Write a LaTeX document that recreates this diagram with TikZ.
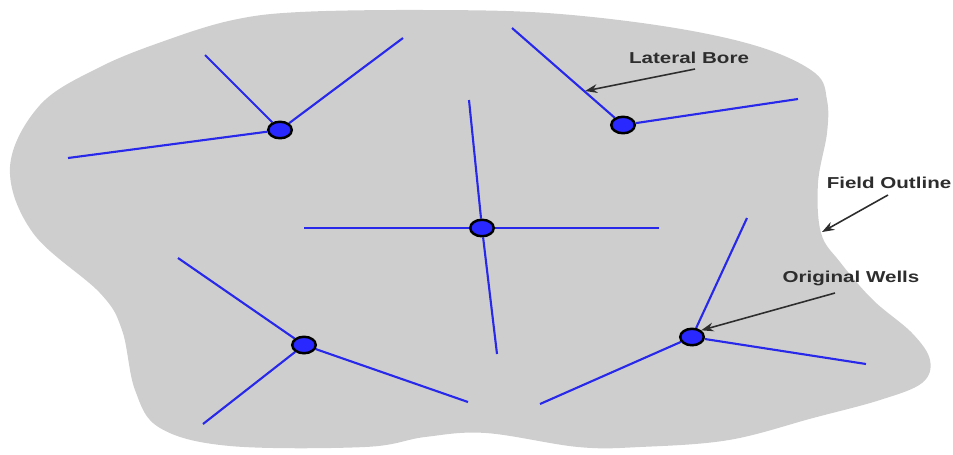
\documentclass[tikz,border=0pt]{standalone}
\usepackage{fontspec}
\setmainfont{Liberation Sans}
\usetikzlibrary{shapes.geometric,arrows.meta,backgrounds}
\definecolor{fieldgray}{RGB}{206,206,206}
\definecolor{borebl}{RGB}{40,40,235}
\definecolor{wellbl}{RGB}{40,40,255}
\definecolor{labgray}{RGB}{45,45,45}
\tikzset{
  well/.style={ellipse,draw=black,line width=1.4pt,fill=wellbl,
    minimum width=0.47cm,minimum height=0.33cm,inner sep=0pt},
  bore/.style={draw=borebl,line width=1.2pt},
  lbl/.style={text=labgray,font=\bfseries\fontsize{9}{10}\selectfont,inner sep=0pt},
  pointer/.style={draw=labgray,line width=0.9pt,-{Stealth[length=7pt,width=5pt]}}
}
\newcommand{\wide}[1]{\scalebox{1.3}[1]{#1}}
\begin{document}
\begin{tikzpicture}[x=0.02cm,y=-0.02cm]
   \useasboundingbox (0,0) rectangle (953,454);
   % wells
   \node[well] (w1) at (280,130) {};
   \node[well] (w2) at (623,125) {};
   \node[well] (w3) at (482,228) {};
   \node[well] (w4) at (304,345) {};
   \node[well] (w5) at (692,337) {};
   % lateral ends
   \coordinate (e1a) at (205,55);  \coordinate (e1b) at (403,38);  \coordinate (e1c) at (68,158);
   \coordinate (e2a) at (512,28);  \coordinate (e2b) at (798,99);
   \coordinate (e3a) at (469,100); \coordinate (e3b) at (497,354);
   \coordinate (e3c) at (304,228); \coordinate (e3d) at (659,228);
   \coordinate (e4a) at (178,258); \coordinate (e4b) at (468,402); \coordinate (e4c) at (203,424);
   \coordinate (e5a) at (747,218); \coordinate (e5b) at (866,364); \coordinate (e5c) at (540,404);
   \begin{pgfonlayer}{background}
   % the field
   \fill[fieldgray] plot[smooth cycle,tension=0.6] coordinates {
     (10,167) (33,233) (100,293) (122,330) (135,390) (160,428) (230,446)
     (365,447) (425,437) (486,433) (578,447) (640,447) (729,440) (813,418)
     (880,400) (922,383) (930,360) (912,333) (873,300) (840,262) (821,233)
     (818,183) (827,133) (827,100) (815,73) (760,47) (669,27) (547,13)
     (425,10) (300,12) (233,20) (167,40) (100,67) (40,105)};
   \draw[bore] (w1) -- (e1a); \draw[bore] (w1) -- (e1b); \draw[bore] (w1) -- (e1c);
   \draw[bore] (w2) -- (e2a); \draw[bore] (w2) -- (e2b);
   \draw[bore] (w3) -- (e3a); \draw[bore] (w3) -- (e3b);
   \draw[bore] (w3) -- (e3c); \draw[bore] (w3) -- (e3d);
   \draw[bore] (w4) -- (e4a); \draw[bore] (w4) -- (e4b); \draw[bore] (w4) -- (e4c);
   \draw[bore] (w5) -- (e5a); \draw[bore] (w5) -- (e5b); \draw[bore] (w5) -- (e5c);
   \end{pgfonlayer}
   % labels
   \node[lbl] (lb) at (689,58) {\wide{Lateral Bore}};
   \node[lbl] (fo) at (889,183) {\wide{Field Outline}};
   \node[lbl] (ow) at (851,278) {\wide{Original Wells}};
   \coordinate (lbtip) at (585,91);
   \coordinate (fotip) at (822,232);
   \draw[pointer] (695,69) -- (lbtip);
   \draw[pointer] (888,195) -- (fotip);
   \draw[pointer] (835,293) -- (w5.north east);
 \end{tikzpicture}
\end{document}
